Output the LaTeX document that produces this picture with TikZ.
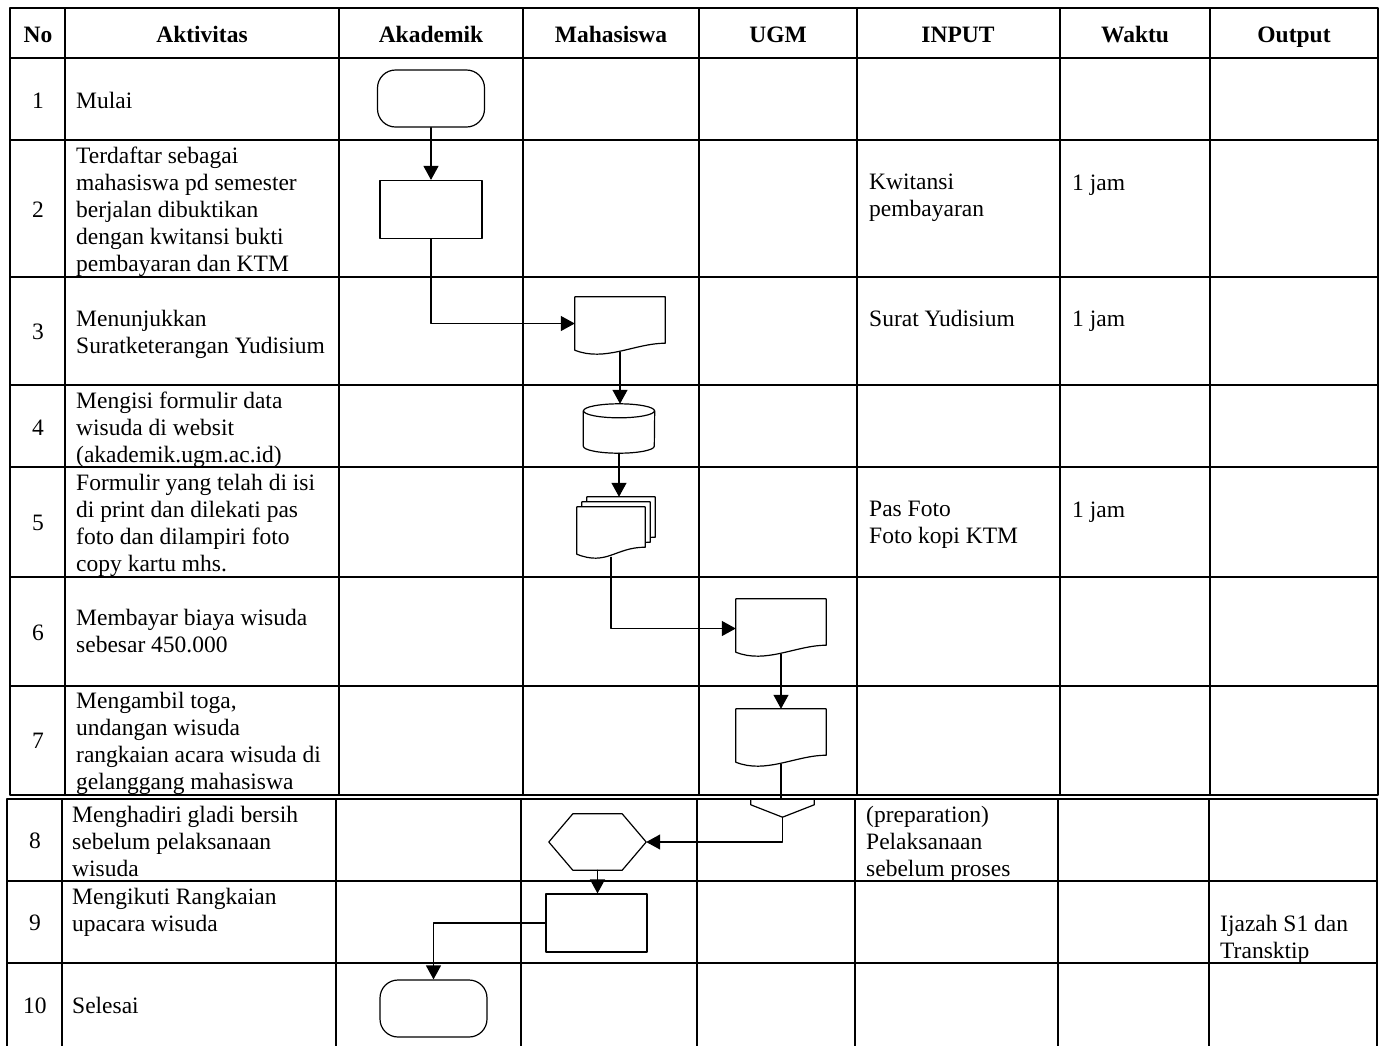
\documentclass[tikz,border=0pt]{standalone}
\usepackage{fontspec}
\setmainfont{Liberation Serif}
\usetikzlibrary{arrows.meta}
\newcommand{\docpath}[1]{\draw[flow, fill=white] (#1.south west) -- (#1.north west) -- (#1.north east) -- ([yshift=7pt]#1.south east) .. controls ([xshift=-30pt,yshift=7pt]#1.south east) and ([xshift=30pt,yshift=-12pt]#1.south west) .. (#1.south west) -- cycle;}
\begin{document}
\begin{tikzpicture}[x=1pt, y=-1pt, line join=round, line cap=round,
	font=\fontsize{23.5}{27}\selectfont,
	tabline/.style={line width=1.5pt},
	flow/.style={line width=1.2pt},
	arr/.style={flow, -{Triangle[length=14pt,width=15pt]}},
	head/.style={anchor=base, inner sep=0pt, font=\fontsize{23.5}{27}\selectfont\bfseries},
	num/.style={anchor=base, inner sep=0pt},
	txt/.style={anchor=base west, inner sep=0pt},
	mtxt/.style={anchor=west, align=left, inner sep=0pt},
	terminal/.style={draw, flow, rounded corners=18pt, minimum width=107pt, minimum height=57pt, inner sep=0pt},
	proc/.style={draw, flow, minimum width=102pt, minimum height=58pt, inner sep=0pt},
	doc/.style={minimum width=90pt, minimum height=53pt, inner sep=0pt},
	mdoc/.style={minimum width=68pt, minimum height=47pt, inner sep=0pt},
	blank/.style={inner sep=0pt}]
	\useasboundingbox (0,0) rectangle (1379,1045);
	\draw[tabline] (10,8) rectangle (1378,795);
	\draw[tabline] (10,58) -- (1378,58);
	\draw[tabline] (10,140) -- (1378,140);
	\draw[tabline] (10,277) -- (1378,277);
	\draw[tabline] (10,385) -- (1378,385);
	\draw[tabline] (10,467) -- (1378,467);
	\draw[tabline] (10,577) -- (1378,577);
	\draw[tabline] (10,686) -- (1378,686);
	\draw[tabline] (65,8) -- (65,795);
	\draw[tabline] (339,8) -- (339,795);
	\draw[tabline] (523,8) -- (523,795);
	\draw[tabline] (699,8) -- (699,795);
	\draw[tabline] (857,8) -- (857,795);
	\draw[tabline] (1060,8) -- (1060,795);
	\draw[tabline] (1210,8) -- (1210,795);
	\draw[tabline] (7,1046) -- (7,799) -- (1377,799) -- (1377,1046);
	\draw[tabline] (7,881) -- (1377,881);
	\draw[tabline] (7,963) -- (1377,963);
	\draw[tabline] (62,799) -- (62,1046);
	\draw[tabline] (336,799) -- (336,1046);
	\draw[tabline] (521,799) -- (521,1046);
	\draw[tabline] (697,799) -- (697,1046);
	\draw[tabline] (855,799) -- (855,1046);
	\draw[tabline] (1058,799) -- (1058,1046);
	\draw[tabline] (1209,799) -- (1209,1046);

	\node[head] (hno) at (38,42) {No};
	\node[head] (hakt) at (202,42) {Aktivitas};
	\node[head] (hakad) at (431,42) {Akademik};
	\node[head] (hmhs) at (611,42) {Mahasiswa};
	\node[head] (hugm) at (778,42) {UGM};
	\node[head] (hinput) at (958,42) {INPUT};
	\node[head] (hwaktu) at (1135,42) {Waktu};
	\node[head] (hout) at (1294,42) {Output};

	\node[num] (n1) at (38,108) {1};
	\node[num] (n2) at (38,217) {2};
	\node[num] (n3) at (38,339) {3};
	\node[num] (n4) at (38,435) {4};
	\node[num] (n5) at (38,530) {5};
	\node[num] (n6) at (38,640) {6};
	\node[num] (n7) at (38,748) {7};
	\node[num] (n8) at (35,848) {8};
	\node[num] (n9) at (35,930) {9};
	\node[num] (n10) at (35,1013) {10};

	\node[txt] (a1) at (76,108) {Mulai};
	\node[mtxt] (a2) at (76,211.5) {Terdaftar sebagai\\mahasiswa pd semester\\berjalan dibuktikan\\dengan kwitansi bukti\\pembayaran dan KTM};
	\node[mtxt] (a3) at (76,334) {Menunjukkan\\Suratketerangan Yudisium};
	\node[mtxt] (a4) at (76,429.5) {Mengisi formulir data\\wisuda di websit\\(akademik.ugm.ac.id)};
	\node[mtxt] (a5) at (76,525) {Formulir yang telah di isi\\di print dan dilekati pas\\foto dan dilampiri foto\\copy kartu mhs.};
	\node[mtxt] (a6) at (76,631.5) {Membayar biaya wisuda\\sebesar 450.000};
	\node[mtxt] (a7) at (76,743) {Mengambil toga,\\undangan wisuda\\rangkaian acara wisuda di\\gelanggang mahasiswa};
	\node[mtxt] (a8) at (72,841) {Menghadiri gladi bersih\\sebelum pelaksanaan\\wisuda};
	\node[mtxt] (a9) at (72,912) {Mengikuti Rangkaian\\upacara wisuda};
	\node[txt] (a10) at (72,1013) {Selesai};

	\node[mtxt] (i2) at (869,198) {Kwitansi\\pembayaran};
	\node[txt] (i3) at (869,326) {Surat Yudisium};
	\node[mtxt] (i5) at (869,525) {Pas Foto\\Foto kopi KTM};
	\node[mtxt] (i8) at (866,843.5) {(preparation)\\Pelaksanaan\\sebelum proses};
	\node[txt] (w2) at (1072,190) {1 jam};
	\node[txt] (w3) at (1072,326) {1 jam};
	\node[txt] (w5) at (1072,517) {1 jam};
	\node[mtxt] (o9) at (1220,939) {Ijazah S1 dan\\Transktip};

	\node[terminal] (mulai) at (431,98.5) {};
	\node[proc] (daftar) at (431,209.5) {};
	\node[doc] (surat) at (620,323.5) {};
	\docpath{surat}
	\node[blank, minimum width=71pt, minimum height=49pt] (db) at (619,428.5) {};
	\draw[flow] ([yshift=-7pt]db.north west) -- ([yshift=7pt]db.south west) arc (180:360:35.5pt and 7pt) -- ([yshift=-7pt]db.north east);
	\draw[flow] ([yshift=-7pt]db.north) ellipse (35.5pt and 7pt);
	\node[mdoc] (cetakc) at (621,520.5) {};
	\node[mdoc] (cetakb) at (616,525.5) {};
	\node[mdoc] (cetak) at (611,530.5) {};
	\docpath{cetakc}
	\docpath{cetakb}
	\docpath{cetak}
	\node[doc] (bayar) at (781,625.5) {};
	\docpath{bayar}
	\node[doc] (ambil) at (781,735.5) {};
	\docpath{ambil}
	\node[blank, minimum width=63pt, minimum height=18pt] (offp) at (782.5,808) {};
	\draw[flow] (offp.north west) -- (offp.north east) -- ([yshift=-6pt]offp.north east) -- (offp.south) -- ([yshift=-6pt]offp.north west) -- cycle;
	\node[blank, minimum width=97pt, minimum height=56pt] (gladi) at (597.5,842) {};
	\draw[flow] (gladi.west) -- ([xshift=24pt]gladi.north west) -- ([xshift=-24pt]gladi.north east) -- (gladi.east) -- ([xshift=-24pt]gladi.south east) -- ([xshift=24pt]gladi.south west) -- cycle;
	\node[proc, minimum width=101pt] (ikut) at (596.5,923) {};
	\node[terminal] (selesai) at (433.5,1008.5) {};

	\draw[arr] (mulai.south) -- (daftar.north);
	\draw[arr] (daftar.south) |- (surat.west);
	\draw[arr] ([yshift=-2pt]surat.south) -- (surat.south |- db.north);
	\draw[arr] (db.south) -- (db.south |- cetakc.north);
	\draw[arr] ([yshift=-3pt]cetak.south) |- ([yshift=-3pt]bayar.west);
	\draw[arr] ([yshift=-2pt]bayar.south) -- (ambil.north);
	\draw[flow] ([yshift=-2pt]ambil.south) -- (ambil.south |- offp.north);
	\draw[arr] (offp.south) |- (gladi.east);
	\draw[arr] (gladi.south) -- (gladi.south |- ikut.north);
	\draw[arr] (ikut.west) -| (selesai.north);
\end{tikzpicture}
\end{document}
